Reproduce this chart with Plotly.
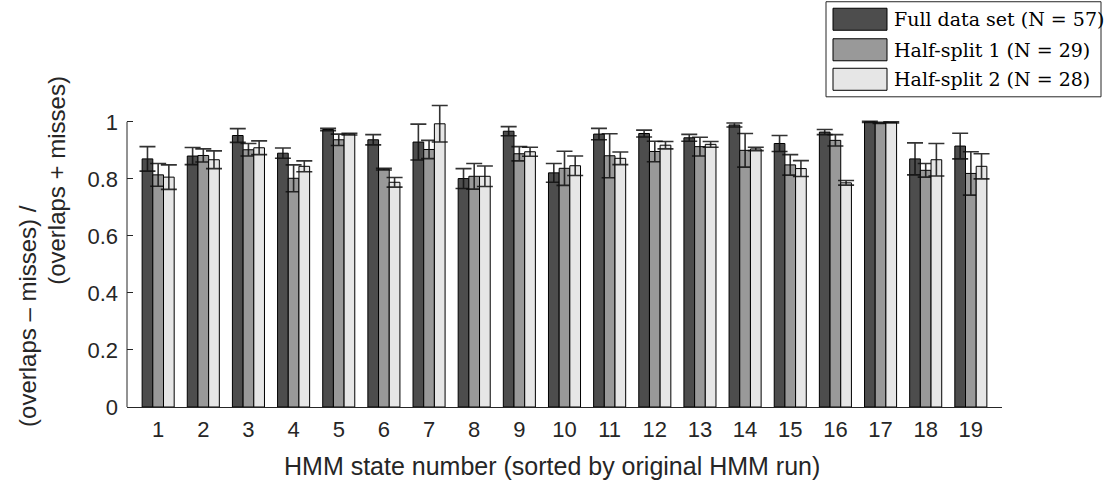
import plotly.graph_objects as go

# HMM states (sorted by original run)
states = list(range(1, 20))

# Full data set (N = 57)
full_vals = [0.870, 0.880, 0.952, 0.890, 0.973, 0.937, 0.929, 0.801, 0.967, 0.821,
             0.957, 0.959, 0.944, 0.989, 0.924, 0.964, 1.000, 0.870, 0.915]
full_err = [0.043, 0.030, 0.024, 0.018, 0.004, 0.018, 0.063, 0.035, 0.016, 0.033,
            0.020, 0.012, 0.012, 0.007, 0.028, 0.009, 0.002, 0.056, 0.045]

# Half-split 1 (N = 29)
half1_vals = [0.814, 0.882, 0.902, 0.802, 0.937, 0.834, 0.903, 0.809, 0.888, 0.837,
              0.881, 0.896, 0.913, 0.900, 0.849, 0.935, 0.996, 0.830, 0.819]
half1_err = [0.040, 0.023, 0.022, 0.047, 0.020, 0.003, 0.032, 0.045, 0.025, 0.060,
             0.077, 0.036, 0.033, 0.059, 0.036, 0.020, 0.002, 0.024, 0.076]

# Half-split 2 (N = 28)
half2_vals = [0.806, 0.867, 0.909, 0.844, 0.957, 0.788, 0.993, 0.809, 0.895, 0.846,
              0.872, 0.918, 0.921, 0.905, 0.836, 0.786, 0.998, 0.867, 0.844]
half2_err = [0.043, 0.031, 0.024, 0.019, 0.003, 0.017, 0.064, 0.036, 0.016, 0.034,
             0.022, 0.013, 0.010, 0.006, 0.028, 0.008, 0.002, 0.057, 0.044]

series_names = ["Full data set (N = 57)", "Half-split 1 (N = 29)", "Half-split 2 (N = 28)"]
series_colors = ["#4d4d4d", "#999999", "#e6e6e6"]
y_ticks = [0, 0.2, 0.4, 0.6, 0.8, 1]
y_ticktext = ["0", "0.2", "0.4", "0.6", "0.8", "1"]

W, H = 1117, 489
L, R, B = 127, 1002, 407          # plot area edges in pixels
Y1 = 122                          # pixel row of y = 1
Y_TOP = 1.08                      # headroom so error bars above 1 stay visible
T = B - (B - Y1) * Y_TOP


def px_x(px):
    return (px - L) / (R - L)


def px_y(py):
    return (B - py) / (B - T)


SANS = "Liberation Sans, Arial, Helvetica, sans-serif"
SERIF = "DejaVu Serif, serif"
TXT = "#262626"

fig = go.Figure()
for name, vals, errs, col in zip(series_names,
                                 [full_vals, half1_vals, half2_vals],
                                 [full_err, half1_err, half2_err],
                                 series_colors):
    fig.add_trace(go.Bar(
        x=states, y=vals, name=name, showlegend=False,
        marker=dict(color=col, line=dict(color="#000000", width=1)),
        error_y=dict(type="data", array=errs, symmetric=True,
                     color="rgba(15,15,15,0.85)", thickness=1.6, width=8),
        cliponaxis=False,
    ))

shapes = []
annotations = []

# left axis line, running from 0 to 1 only
shapes.append(dict(type="line", xref="paper", yref="y", x0=0, x1=0, y0=0, y1=1,
                   line=dict(color=TXT, width=1), layer="above"))

# legend box
shapes.append(dict(type="rect", xref="paper", yref="paper",
                   x0=px_x(826), x1=px_x(1101), y0=px_y(97), y1=px_y(2),
                   line=dict(color=TXT, width=1), fillcolor="white"))
row_centers = [19.5, 50, 79.5]
for name, col, cy in zip(series_names, series_colors, row_centers):
    shapes.append(dict(type="rect", xref="paper", yref="paper",
                       x0=px_x(833), x1=px_x(887), y0=px_y(cy + 11), y1=px_y(cy - 11),
                       line=dict(color="#000000", width=1), fillcolor=col))
    annotations.append(dict(xref="paper", yref="paper", x=px_x(892), y=px_y(cy),
                            xanchor="left", yanchor="middle", showarrow=False,
                            text=name, font=dict(family=SERIF, size=19, color="#000000")))

# axis titles
annotations.append(dict(xref="paper", yref="paper", x=px_x(552), y=px_y(466),
                        xanchor="center", yanchor="middle", showarrow=False,
                        text="HMM state number (sorted by original HMM run)",
                        font=dict(family=SANS, size=25, color=TXT)))
annotations.append(dict(xref="paper", yref="paper", x=px_x(28), y=px_y(316),
                        xanchor="center", yanchor="middle", showarrow=False, textangle=-90,
                        text="(overlaps – misses) /",
                        font=dict(family=SANS, size=24, color=TXT)))
annotations.append(dict(xref="paper", yref="paper", x=px_x(57), y=px_y(181),
                        xanchor="center", yanchor="middle", showarrow=False, textangle=-90,
                        text="(overlaps + misses)",
                        font=dict(family=SANS, size=24, color=TXT)))

fig.update_layout(
    width=W, height=H,
    margin=dict(l=L, r=W - R, t=T, b=H - B, pad=0),
    paper_bgcolor="white", plot_bgcolor="white",
    barmode="group", bargap=0.29, bargroupgap=0,
    showlegend=False,
    shapes=shapes, annotations=annotations,
    xaxis=dict(range=[0.31, 19.69], tickvals=states, ticktext=[str(s) for s in states],
               ticks="", showline=True, linecolor=TXT, linewidth=1,
               showgrid=False, zeroline=False, ticklabelstandoff=3,
               tickfont=dict(family=SANS, size=22, color=TXT)),
    yaxis=dict(range=[0, Y_TOP], tickvals=y_ticks, ticktext=y_ticktext,
               ticks="inside", ticklen=6, tickcolor=TXT, showline=False,
               showgrid=False, zeroline=False,
               ticklabelstandoff=8,
               tickfont=dict(family=SANS, size=22, color=TXT)),
)

fig.write_html("out.html")
